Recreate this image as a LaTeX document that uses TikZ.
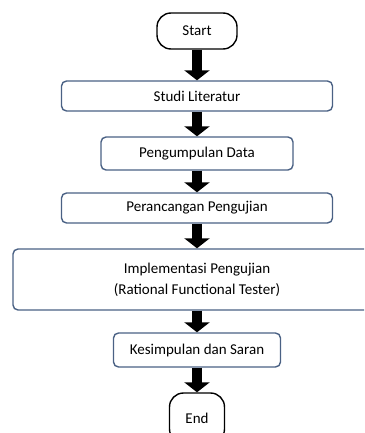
\documentclass[tikz,border=0pt]{standalone}
\usepackage{fontspec}
\setmainfont{Carlito}
\usetikzlibrary{arrows.meta}
\definecolor{boxline}{HTML}{4A6184}
\begin{document}
\begin{tikzpicture}[x=1pt,y=-1pt,
  box/.style={draw=boxline, line width=1.4pt, rounded corners=5pt, minimum height=30pt, inner sep=0pt, align=center, font=\fontsize{15}{21}\selectfont},
  terminal/.style={draw=black, line width=1.4pt, rounded corners=14pt, minimum height=36pt, inner sep=0pt, font=\fontsize{15}{21}\selectfont},
  fatarrow/.style={line width=10pt, -{Triangle[width=25pt,length=10pt]}}]
 \useasboundingbox (0,0) rectangle (364,433);
 \clip (0,0) rectangle (364,433);

 %start and end
 \node [terminal, minimum width=80pt] (start) at (197,31) {Start};
 \node [terminal, minimum width=55pt, minimum height=50pt] (end) at (197,418) {End};

 %steps
 \node [box, minimum width=271pt] (studi) at (197,96) {Studi Literatur};
 \node [box, minimum width=192pt, minimum height=33pt] (data) at (197,153.5) {Pengumpulan Data};
 \node [box, minimum width=271pt] (rancang) at (197,208) {Perancangan Pengujian};
 \node [box, minimum width=368pt, minimum height=61pt] (impl) at (197,279.5) {Implementasi Pengujian\\(Rational Functional Tester)};
 \node [box, minimum width=167pt, minimum height=34pt] (saran) at (197,350) {Kesimpulan dan Saran};

 %draw arrows
 \draw [fatarrow] (start) -- (studi);
 \draw [fatarrow] (studi) -- (data);
 \draw [fatarrow] (data) -- (rancang);
 \draw [fatarrow] (rancang) -- (impl);
 \draw [fatarrow] (impl) -- (saran);
 \draw [fatarrow] (saran) -- (end);
\end{tikzpicture}
\end{document}
